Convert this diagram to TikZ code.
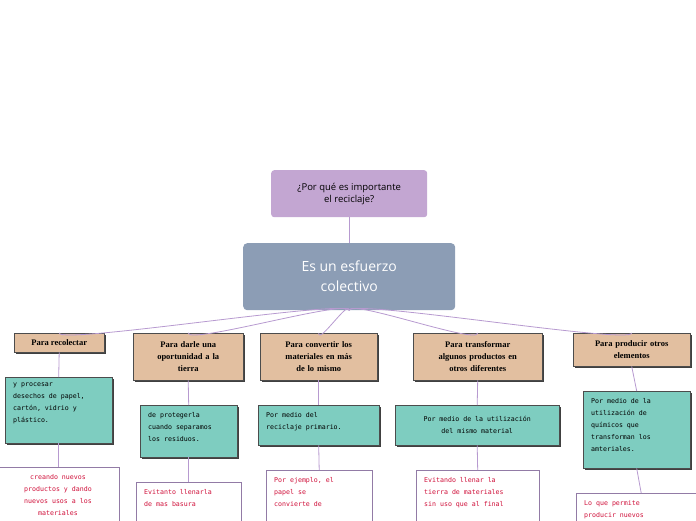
\documentclass[tikz,border=0pt]{standalone}
\usepackage{fontspec}
\setmainfont{Liberation Serif}
\setsansfont{Open Sans}
\setmonofont{DejaVu Sans Mono}
\usetikzlibrary{shadows}
\definecolor{pregunta}{HTML}{C3A6D2}
\definecolor{central}{HTML}{8C9DB5}
\definecolor{rama}{HTML}{E2BFA0}
\definecolor{idea}{HTML}{7ECDC0}
\definecolor{linea}{HTML}{B79AD0}
\definecolor{rojo}{HTML}{D0103A}

\begin{document}
\begin{tikzpicture}[x=1pt, y=-1pt,
    sombra/.style={drop shadow={shadow xshift=1.6pt, shadow yshift=-1.6pt,
                                fill=black!75, opacity=1}},
    rama/.style={draw=black!70, fill=rama, sombra, anchor=north west,
                 align=center, font=\bfseries\fontsize{8.5}{12}\selectfont,
                 inner sep=2pt},
    idea/.style={draw=black!70, fill=idea, sombra, anchor=north west,
                 font=\ttfamily\fontsize{6.6}{12}\selectfont, inner sep=0pt},
    nota/.style={draw=linea!80!black, fill=white, anchor=north west,
                 text=rojo, font=\ttfamily\fontsize{6.6}{12}\selectfont,
                 inner sep=0pt},
    union/.style={draw=linea, line width=0.8pt}]
  \useasboundingbox (0,0) rectangle (696,520);
  \clip (0,0) rectangle (696,520);

  % pregunta y tema central
  \node[fill=pregunta, rounded corners=3pt, anchor=north west,
        minimum width=156pt, minimum height=47pt, align=center,
        font=\sffamily\fontsize{9.5}{12}\selectfont] (preg) at (271,170)
        {¿Por qué es importante\\el reciclaje?};
  \node[fill=central, rounded corners=4pt, anchor=north west, text=white,
        minimum width=212pt, minimum height=67pt, align=center,
        font=\sffamily\fontsize{14}{20}\selectfont] (tema) at (243,243)
        {Es un esfuerzo\\colectivo};
  \draw[union] (preg.south) -- (tema.north);

  % ramas
  \node[rama, minimum width=90pt, minimum height=19pt] (r1) at (14,333)
        {Para recolectar};
  \node[rama, text width=106pt, minimum height=47pt] (r2) at (133,333)
        {Para darle una\\oportunidad a la\\tierra};
  \node[rama, text width=113pt, minimum height=47pt] (r3) at (260,333)
        {Para convertir los\\materiales en más\\de lo mismo};
  \node[rama, text width=125pt, minimum height=47pt] (r4) at (413,333)
        {Para transformar\\algunos productos en\\otros diferentes};
  \node[rama, text width=113pt, minimum height=33pt] (r5) at (573,333)
        {Para producir otros\\elementos};

  \foreach \r in {r1,r2,r3,r4,r5}
    \draw[union] (tema.south) .. controls +(0,12pt) and +(0,-12pt) .. (\r.north);

  % ideas
  \node[idea, minimum width=107pt, minimum height=66pt] (i1) at (5,377) {};
  \node[anchor=north west, align=left, inner sep=0pt,
        font=\ttfamily\fontsize{6.6}{12}\selectfont] at (13,383)
        {y procesar\\desechos de papel,\\cartón, vidrio y\\plástico.};
  \node[idea, minimum width=97pt, minimum height=52pt] (i2) at (140,405) {};
  \node[anchor=north west, align=left, inner sep=0pt,
        font=\ttfamily\fontsize{6.6}{12}\selectfont] at (148,412)
        {de protegerla\\cuando separamos\\los residuos.};
  \node[idea, minimum width=121pt, minimum height=40pt] (i3) at (258,405) {};
  \node[anchor=north west, align=left, inner sep=0pt,
        font=\ttfamily\fontsize{6.6}{12}\selectfont] at (266,412)
        {Por medio del\\reciclaje primario.};
  \node[idea, minimum width=164pt, minimum height=40pt] (i4) at (395,405) {};
  \node[align=center, inner sep=0pt,
        font=\ttfamily\fontsize{6.6}{12}\selectfont] at (i4.center)
        {Por medio de la utilización\\del mismo material};
  \node[idea, minimum width=107pt, minimum height=77pt] (i5) at (583,391) {};
  \node[anchor=north west, align=left, inner sep=0pt,
        font=\ttfamily\fontsize{6.6}{12}\selectfont] at (591,398)
        {Por medio de la\\utilización de\\químicos que\\transforman los\\amteriales.};

  \foreach \r/\i in {r1/i1,r2/i2,r3/i3,r4/i4,r5/i5}
    \draw[union] (\r.south) -- (\i.north);

  % notas
  \node[nota, minimum width=121pt, minimum height=70pt] (n1) at (-2,467) {};
  \node[anchor=north, align=center, text=rojo, inner sep=0pt,
        font=\ttfamily\fontsize{6.6}{12}\selectfont] at (58,474)
        {creando nuevos\\productos y dando\\nuevos usos a los\\materiales};
  \node[nota, minimum width=105pt, minimum height=50pt] (n2) at (136,482) {};
  \node[anchor=north west, align=left, text=rojo, inner sep=0pt,
        font=\ttfamily\fontsize{6.6}{12}\selectfont] at (144,489)
        {Evitanto llenarla\\de mas basura};
  \node[nota, minimum width=106pt, minimum height=60pt] (n3) at (266,470) {};
  \node[anchor=north west, align=left, text=rojo, inner sep=0pt,
        font=\ttfamily\fontsize{6.6}{12}\selectfont] at (274,477)
        {Por ejemplo, el\\papel se\\convierte de};
  \node[nota, minimum width=123pt, minimum height=60pt] (n4) at (416,470) {};
  \node[anchor=north west, align=left, text=rojo, inner sep=0pt,
        font=\ttfamily\fontsize{6.6}{12}\selectfont] at (424,477)
        {Evitando llenar la\\tierra de materiales\\sin uso que al final};
  \node[nota, minimum width=130pt, minimum height=50pt] (n5) at (576,493) {};
  \node[anchor=north west, align=left, text=rojo, inner sep=0pt,
        font=\ttfamily\fontsize{6.6}{12}\selectfont] at (584,500)
        {Lo que permite\\producir nuevos};

  \foreach \i/\n in {i1/n1,i2/n2,i3/n3,i4/n4,i5/n5}
    \draw[union] (\i.south) -- (\n.north);
\end{tikzpicture}
\end{document}
